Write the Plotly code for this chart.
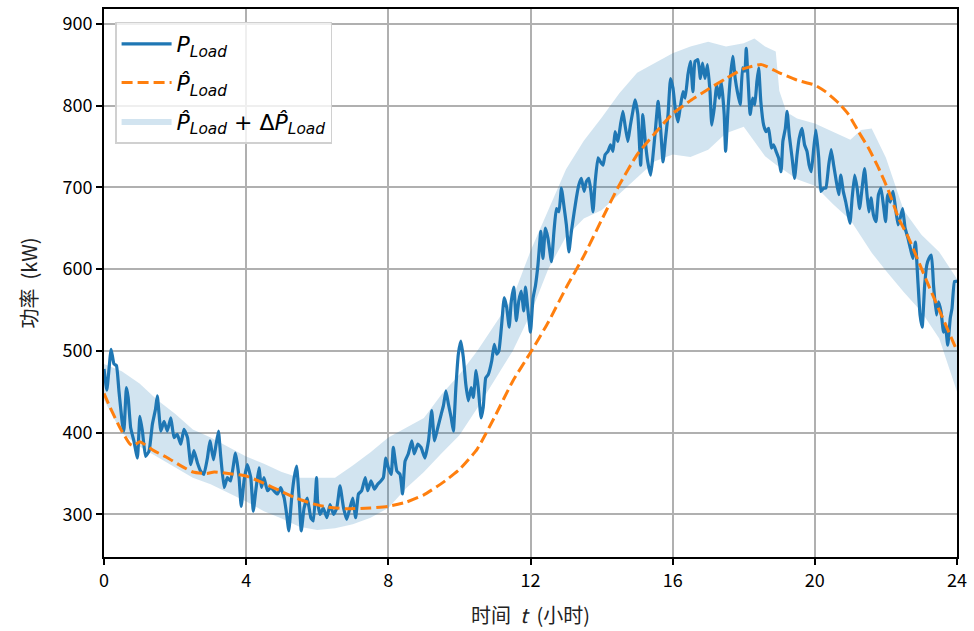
import plotly.graph_objects as go

# Measured load P_Load (kW) over the day, hours
t_load = [0, 0.08, 0.2, 0.28, 0.35, 0.42, 0.52, 0.56, 0.63, 0.68, 0.75, 0.84, 0.94, 1.01, 1.08, 1.17, 1.27,
          1.36, 1.45, 1.5, 1.6, 1.69, 1.78, 1.88, 1.97, 2.06, 2.16, 2.25, 2.35, 2.44, 2.53, 2.63, 2.72, 2.81,
          2.91, 2.98, 3.08, 3.14, 3.22, 3.28, 3.38, 3.47, 3.56, 3.7, 3.8, 3.86, 3.94, 4.03, 4.13, 4.2, 4.27,
          4.36, 4.43, 4.5, 4.6, 4.69, 4.78, 4.88, 4.97, 5.07, 5.14, 5.2, 5.28, 5.35, 5.42, 5.49, 5.55, 5.63,
          5.72, 5.82, 5.89, 5.98,
          6.01, 6.08, 6.17, 6.27, 6.36, 6.46, 6.55, 6.64, 6.74, 6.83, 6.92, 7.0, 7.08, 7.16, 7.25, 7.35, 7.42,
          7.51, 7.61, 7.7, 7.79, 7.86, 7.93, 8.0, 8.08, 8.14, 8.24, 8.33, 8.4, 8.47, 8.56, 8.66, 8.73, 8.83,
          8.92, 9.03, 9.13, 9.22, 9.3, 9.39, 9.49, 9.55, 9.62, 9.69, 9.77, 9.83, 9.9, 9.97, 10.04, 10.11,
          10.18, 10.25, 10.33, 10.39, 10.47, 10.53, 10.61, 10.67, 10.74, 10.81, 10.91, 10.98, 11.05, 11.11,
          11.19, 11.26, 11.33, 11.4, 11.46, 11.53, 11.6, 11.67, 11.74, 11.81, 11.86, 11.92,
          12.0, 12.07, 12.14, 12.21, 12.29, 12.35, 12.42, 12.49, 12.59, 12.66, 12.73, 12.8, 12.87, 12.95,
          13.01, 13.08, 13.15, 13.23, 13.29, 13.36, 13.43, 13.51, 13.57, 13.64, 13.7, 13.76, 13.82, 13.9,
          13.97, 14.04, 14.1, 14.18, 14.25, 14.32, 14.38, 14.46, 14.53, 14.6, 14.66, 14.74, 14.81, 14.88,
          14.94, 15.02, 15.1, 15.16, 15.23, 15.3, 15.38, 15.44, 15.51, 15.59, 15.66, 15.73, 15.79, 15.87,
          15.94, 16.01, 16.07, 16.15, 16.21, 16.29, 16.35, 16.43, 16.5, 16.57, 16.63, 16.71, 16.78, 16.84,
          16.91, 16.98, 17.05, 17.1, 17.17, 17.24, 17.31, 17.37, 17.45, 17.49, 17.56, 17.62, 17.69, 17.76,
          17.82, 17.9, 17.97,
          18.03, 18.07, 18.12, 18.18, 18.25, 18.31, 18.37, 18.42, 18.48, 18.56, 18.63, 18.7, 18.78, 18.84,
          18.91, 18.98, 19.05, 19.1, 19.17, 19.22, 19.28, 19.36, 19.43, 19.5, 19.56, 19.64, 19.71, 19.78,
          19.84, 19.9, 19.97, 20.03, 20.11, 20.17, 20.25, 20.31, 20.39, 20.46, 20.53, 20.59, 20.67, 20.73,
          20.8, 20.87, 20.94, 20.99, 21.05, 21.12, 21.19, 21.26, 21.32, 21.4, 21.46, 21.52, 21.58, 21.65,
          21.72, 21.79, 21.86, 21.93, 21.99, 22.05, 22.12, 22.2, 22.26, 22.34, 22.4, 22.47, 22.54, 22.62,
          22.69, 22.76, 22.83, 22.9, 22.96, 23.02, 23.09, 23.15, 23.21, 23.28, 23.34, 23.42, 23.48, 23.55,
          23.62, 23.67, 23.74, 23.81, 23.86, 23.93, 24.0]
p_load = [478, 452, 502, 484, 482, 451, 410, 402, 455, 443, 406, 390, 369, 420, 402, 371, 378,
          410, 429, 445, 402, 414, 402, 418, 394, 398, 386, 404, 394, 361, 378, 363, 353, 349,
          369, 390, 367, 382, 402, 373, 333, 345, 341, 375, 345, 310, 341, 361, 345, 304, 329,
          357, 333, 345, 329, 333, 329, 325, 333, 320, 300, 280, 320, 345, 359, 320, 280, 308,
          320, 296, 292, 345,
          316, 300, 308, 296, 312, 300, 308, 335, 308, 294, 308, 320, 296, 325, 329, 345, 329,
          341, 331, 337, 341, 345, 369, 357, 349, 382, 353, 349, 325, 365, 374, 390, 374, 386,
          382, 369, 390, 427, 390, 406, 423, 433, 451, 435, 418, 402, 455, 496, 512, 492,
          459, 439, 455, 443, 476, 455, 418, 431, 467, 471, 488, 508, 496, 500,
          533, 565, 553, 529, 561, 578, 537, 561, 573, 549, 578, 553,
          523, 564, 580, 605, 646, 613, 650, 638, 609, 646, 674, 670, 699, 674,
          654, 621, 646, 670, 687, 703, 711, 695, 707, 711, 695, 670, 707, 736,
          731, 727, 740, 744, 752, 744, 768, 756, 776, 793, 776, 756, 776, 793,
          807, 789, 727, 789, 756, 731, 715, 736, 768, 805, 772, 731, 756, 789,
          833, 821, 797, 780, 797, 817, 809, 838, 854, 817, 854, 856, 833, 852,
          833, 850, 817, 776, 797, 825, 809, 829, 789, 744, 797, 833, 860, 833,
          817, 801, 846,
          842, 870, 833, 789, 809, 801, 829, 846, 805, 776, 768, 772, 748, 752,
          744, 736, 719, 756, 772, 793, 764, 736, 711, 740, 760, 772, 752, 744,
          727, 719, 748, 770, 736, 695, 699, 699, 727, 746, 727, 711, 691, 715,
          695, 682, 666, 656, 687, 715, 699, 674, 695, 723, 695, 670, 687, 666,
          658, 691, 699, 678, 658, 691, 682, 695, 678, 654, 662, 674, 650, 638,
          625, 613, 633, 585, 544, 529, 580, 605, 613, 617, 580, 544, 560, 548,
          523, 532, 507, 540, 552, 585, 585]

# Forecast load P̂_Load (kW)
t_fc = [0, 0.17, 0.45, 0.73, 0.85, 1.0, 1.4, 1.76, 2.14, 2.5, 2.89, 3.1, 3.5, 4.0, 4.5, 4.95, 5.4, 5.89,
        6.3, 6.83, 7.5, 8.0, 8.5, 9.0, 9.5, 10.0, 10.5, 11.0, 11.5, 12.0, 12.5, 13.0, 13.5, 14.0, 14.5,
        15.0, 15.5, 16.0, 16.5, 17.0, 17.5, 18.0, 18.5, 19.0, 19.5, 20.0, 20.3, 20.67, 20.95, 21.23,
        21.51, 21.8, 22.08, 22.36, 22.64, 22.92, 23.2, 23.48, 23.77, 24.0]
p_fc = [448, 431, 406, 386, 384, 389, 378, 370, 360, 352, 350, 352, 350, 347, 338, 329, 320, 313,
        309, 307, 308, 310, 315, 324, 338, 355, 380, 420, 463, 498, 535, 577, 616, 660, 703,
        740, 766, 790, 806, 820, 833, 845, 850, 840, 831, 825, 817, 803, 789, 768,
        748, 723, 695, 662, 638, 609, 580, 552, 523, 500]

# Forecast uncertainty band P̂_Load + ΔP̂_Load (kW)
t_band = [0, 0.5, 1.0, 1.5, 2.0, 2.5, 3.0, 3.5, 4.0, 4.5, 5.0, 5.5, 6.0, 6.5, 7.0, 7.5, 8.0, 8.5, 9.0,
          9.5, 10.0, 10.5, 11.0, 11.5, 12.0, 12.5, 13.0, 13.5, 14.0, 14.5, 15.0, 15.5, 16.0, 16.5, 17.0,
          17.5, 18.0, 18.3, 18.6, 18.9, 19.0, 19.2, 19.5, 20.0, 20.5, 21.0, 21.3, 21.6, 22.0, 22.5, 23.0,
          23.5, 24.0]
band_hi = [484, 475, 460, 440, 423, 404, 394, 382, 371, 362, 352, 345, 345, 345, 360, 376, 394, 406,
           418, 447, 471, 500, 533, 565, 622, 672, 722, 757, 785, 815, 840, 852, 864, 872, 878,
           872, 876, 882, 872, 866, 818, 792, 784, 778, 768, 758, 770, 772, 736, 672, 642,
           621, 588]
band_lo = [440, 400, 383, 370, 358, 345, 337, 327, 316, 304, 295, 285, 281, 283, 288, 296, 308, 332,
           352, 375, 397, 430, 465, 500, 545, 600, 640, 662, 672, 692, 712, 732, 740, 737, 746,
           766, 774, 756, 738, 728, 725, 718, 710, 702, 680, 660, 640, 620, 598, 572, 548,
           515, 450]

x_ticks = [0, 4, 8, 12, 16, 20, 24]
y_ticks = [300, 400, 500, 600, 700, 800, 900]

BLUE = "#1f77b4"
ORANGE = "#ff7f0e"
BAND = "rgba(31,119,180,0.2)"

name_p = "<i>P</i><sub><i>Load</i></sub>"
name_fc = "<i>P̂</i><sub><i>Load</i></sub>"
name_band = "<i>P̂</i><sub><i>Load</i></sub> + Δ<i>P̂</i><sub><i>Load</i></sub>"

fig = go.Figure()

fig.add_trace(go.Scatter(x=t_band, y=band_lo, mode="lines", line=dict(width=0, color=BAND),
                         showlegend=False, hoverinfo="skip", legendgroup="band"))
fig.add_trace(go.Scatter(x=t_band, y=band_hi, mode="lines", line=dict(width=0, color=BAND),
                         fill="tonexty", fillcolor=BAND, name=name_band, legendrank=3,
                         legendgroup="band"))
fig.add_trace(go.Scatter(x=t_load, y=p_load, mode="lines",
                         line=dict(color=BLUE, width=3.2, shape="spline", smoothing=0.4),
                         name=name_p, legendrank=1, legendgroup="load"))
fig.add_trace(go.Scatter(x=t_fc, y=p_fc, mode="lines", line=dict(color=ORANGE, width=3, dash="11px,5px",
                         shape="spline", smoothing=0.5), name=name_fc, legendrank=2,
                         legendgroup="fc"))

tick_font = dict(family="Noto Sans CJK SC", size=18, color="#000")
title_font = dict(family="Noto Sans CJK SC", size=20, color="#222")

fig.update_layout(
    width=974, height=631,
    margin=dict(l=104, r=17, t=7, b=74),
    paper_bgcolor="white", plot_bgcolor="white",
    showlegend=True,
    legend=dict(x=0.013, y=0.977, xanchor="left", yanchor="top",
                bgcolor="rgba(255,255,255,0.8)", bordercolor="#d0d0d0", borderwidth=1.5,
                font=dict(family="DejaVu Sans", size=22, color="#000"),
                itemwidth=50, traceorder="grouped", tracegroupgap=7),
    xaxis=dict(range=[0, 24], tickvals=x_ticks, ticktext=[str(v) for v in x_ticks],
               showgrid=True, gridcolor="#b0b0b0", gridwidth=1.5, zeroline=False,
               showline=True, linecolor="#000", linewidth=1.8, mirror=True,
               ticks="outside", ticklen=6, tickwidth=1.5, tickcolor="#000",
               tickfont=tick_font,
               title=dict(text="时间&nbsp;&nbsp;<i>t</i>&nbsp;&nbsp;(小时)", standoff=18,
                          font=title_font)),
    yaxis=dict(range=[248, 918], tickvals=y_ticks, ticktext=[str(v) for v in y_ticks],
               showgrid=True, gridcolor="#b0b0b0", gridwidth=1.5, zeroline=False,
               showline=True, linecolor="#000", linewidth=1.8, mirror=True,
               ticks="outside", ticklen=6, tickwidth=1.5, tickcolor="#000",
               tickfont=tick_font,
               title=dict(text="功率&nbsp;&nbsp;(kW)", standoff=20, font=title_font)),
)

fig.write_html("out.html")
